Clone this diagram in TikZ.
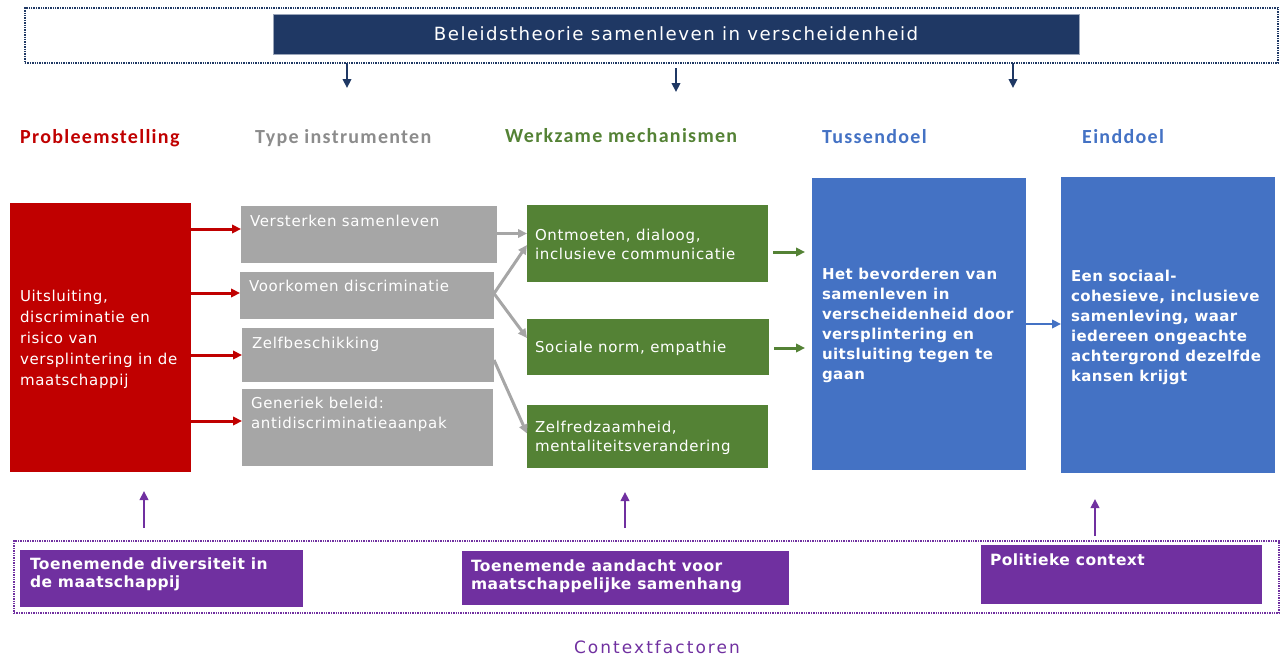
\documentclass[tikz,border=0pt]{standalone}
\usepackage{fontspec}
\usetikzlibrary{arrows.meta,calc}
\newfontfamily\boxfont{DejaVu Sans}[LetterSpace=4.5]
\newfontfamily\titlefont{DejaVu Sans}[LetterSpace=8]
\newfontfamily\ctxfont{DejaVu Sans}[LetterSpace=12]
\newfontfamily\boldfont{DejaVu Sans}[LetterSpace=3]
\newfontfamily\headfont{Carlito}[LetterSpace=6.5]
\definecolor{cnavy}{HTML}{1F3864}
\definecolor{cred}{HTML}{C00000}
\definecolor{cgrey}{HTML}{A6A6A6}
\definecolor{cgreyhead}{HTML}{8C8C8C}
\definecolor{cgreen}{HTML}{548235}
\definecolor{cblue}{HTML}{4472C4}
\definecolor{cpurple}{HTML}{7030A0}
\begin{document}
\begin{tikzpicture}[x=1pt,y=-1pt,
  box/.style={rectangle, anchor=north west, inner sep=0pt, outer sep=0pt},
  txt/.style={inner sep=0pt, outer sep=0pt, align=left, text=white},
  regtxt/.style={txt, font=\boxfont\fontsize{15}{20}\selectfont},
  boldtxt/.style={txt, font=\boldfont\bfseries\fontsize{15}{20}\selectfont},
  pptxt/.style={txt, anchor=base west, font=\boldfont\bfseries\fontsize{15.5}{18}\selectfont},
  head/.style={inner sep=0pt, anchor=base west, font=\headfont\bfseries\fontsize{20}{24}\selectfont},
  dots/.style={dash pattern=on 1.4pt off 1pt, line width=2.4pt},
  tip/.style={-{Triangle[length=9pt,width=8.5pt]}},
  redarrow/.style={tip, draw=cred, line width=3pt},
  greyarrow/.style={tip, draw=cgrey, line width=3pt},
  greenarrow/.style={tip, draw=cgreen, line width=3pt},
  bluearrow/.style={tip, draw=cblue, line width=2.6pt},
  navyarrow/.style={tip, draw=cnavy, line width=2.4pt},
  purplearrow/.style={tip, draw=cpurple, line width=2.8pt}]
\useasboundingbox (0,0) rectangle (1285,659);

% top frame and banner
\node[box, draw=cnavy, dots, minimum width=1253pt, minimum height=55pt] (topf) at (25,8) {};
\node[box, fill=cnavy, draw=cnavy!45, line width=0.8pt, minimum width=806pt, minimum height=40pt,
  text=white, font=\titlefont\fontsize{18.2}{20}\selectfont] (banner) at (273,14) {Beleidstheorie samenleven in verscheidenheid};

\coordinate (na1s) at (347,63);  \coordinate (na1e) at (347,88);
\coordinate (na2s) at (676,68);  \coordinate (na2e) at (676,92);
\coordinate (na3s) at (1013,63); \coordinate (na3e) at (1013,88);
\draw[navyarrow] (na1s) -- (na1e);
\draw[navyarrow] (na2s) -- (na2e);
\draw[navyarrow] (na3s) -- (na3e);

% headers
\node[head, text=cred] (h1) at (20,143) {Probleemstelling};
\node[head, text=cgreyhead] (h2) at (255,143) {Type instrumenten};
\node[head, text=cgreen] (h3) at (505,142) {Werkzame mechanismen};
\node[head, text=cblue] (h4) at (822,143) {Tussendoel};
\node[head, text=cblue] (h5) at (1082,143) {Einddoel};

% problem box
\node[box, fill=cred, minimum width=181pt, minimum height=269pt] (red) at (10,203) {};
\node[regtxt, anchor=west, font=\boxfont\fontsize{15}{21}\selectfont] (redt) at ([xshift=10pt,yshift=-2pt]red.west)
  {Uitsluiting,\\discriminatie en\\risico van\\versplintering in de\\maatschappij};

% instrument boxes
\node[box, fill=cgrey, minimum width=256pt, minimum height=57pt] (gr1) at (241,206) {};
\node[box, fill=cgrey, minimum width=254pt, minimum height=47pt] (gr2) at (240,272) {};
\node[box, fill=cgrey, minimum width=252pt, minimum height=54pt] (gr3) at (242,328) {};
\node[box, fill=cgrey, minimum width=251pt, minimum height=77pt] (gr4) at (242,389) {};
\node[regtxt, anchor=base west] (gr1t) at (250,226) {Versterken samenleven};
\node[regtxt, anchor=base west] (gr2t) at (249,291) {Voorkomen discriminatie};
\node[regtxt, anchor=base west] (gr3t) at (252,348) {Zelfbeschikking};
\node[regtxt, anchor=base west] (gr4t) at (251,428) {Generiek beleid:\\antidiscriminatieaanpak};

% mechanism boxes
\node[box, fill=cgreen, minimum width=241pt, minimum height=77pt] (gn1) at (527,205) {};
\node[box, fill=cgreen, minimum width=242pt, minimum height=56pt] (gn2) at (527,319) {};
\node[box, fill=cgreen, minimum width=241pt, minimum height=63pt] (gn3) at (527,405) {};
\node[regtxt, anchor=west, font=\boxfont\fontsize{15}{19.5}\selectfont] (gn1t) at ([xshift=8pt,yshift=-1pt]gn1.west) {Ontmoeten, dialoog,\\inclusieve communicatie};
\node[regtxt, anchor=west] (gn2t) at ([xshift=8pt,yshift=-1pt]gn2.west) {Sociale norm, empathie};
\node[regtxt, anchor=west, font=\boxfont\fontsize{15}{19.5}\selectfont] (gn3t) at ([xshift=8pt,yshift=-1.5pt]gn3.west) {Zelfredzaamheid,\\mentaliteitsverandering};

% goal boxes
\node[box, fill=cblue, minimum width=214pt, minimum height=292pt] (tus) at (812,178) {};
\node[box, fill=cblue, minimum width=214pt, minimum height=296pt] (ein) at (1061,177) {};
\node[boldtxt, anchor=west] (tust) at ([xshift=10pt,yshift=-1pt]tus.west)
  {Het bevorderen van\\samenleven in\\verscheidenheid door\\versplintering en\\uitsluiting tegen te\\gaan};
\node[boldtxt, anchor=west] (eint) at ([xshift=10pt,yshift=-2pt]ein.west)
  {Een sociaal-\\cohesieve, inclusieve\\samenleving, waar\\iedereen ongeachte\\achtergrond dezelfde\\kansen krijgt};

% red arrows
\path ([yshift=5.5pt]gr1.west) coordinate (r1e)
      ([yshift=2.5pt]gr2.west) coordinate (r2e)
      ([yshift=0pt]gr3.west) coordinate (r3e)
      ([yshift=6.5pt]gr4.west) coordinate (r4e);
\draw[redarrow] (r1e -| red.east) -- (r1e);
\draw[redarrow] (r2e -| red.east) -- (r2e);
\draw[redarrow] (r3e -| red.east) -- (r3e);
\draw[redarrow] (r4e -| red.east) -- (r4e);

% grey arrows
\draw[greyarrow] ([yshift=1pt]gr1.east) -- ([yshift=1pt]gr1.east -| gn1.west);
\draw[greyarrow] ([yshift=2pt]gr2.east) -- ([yshift=-1.5pt]gn1.west);
\draw[greyarrow] ([yshift=2pt]gr2.east) -- ([yshift=9pt]gn2.west);
\draw[greyarrow] ([yshift=-5pt]gr3.east) -- ([yshift=3pt]gn3.west);

% green arrows
\path ([xshift=5pt,yshift=-8.5pt]gn1.east) coordinate (g1s)
      ([xshift=5pt,yshift=-1pt]gn2.east) coordinate (g2s);
\draw[greenarrow, shorten >=7pt] (g1s) -- (g1s -| tus.west);
\draw[greenarrow, shorten >=7pt] (g2s) -- (g2s -| tus.west);

% blue arrow
\draw[bluearrow] (tus.east) -- (tus.east -| ein.west);

% context factors
\node[box, draw=cpurple, dots, minimum width=1265pt, minimum height=72pt] (botf) at (14,541) {};
\node[box, fill=cpurple, minimum width=283pt, minimum height=57pt] (pp1) at (20,550) {};
\node[box, fill=cpurple, minimum width=327pt, minimum height=54pt] (pp2) at (462,551) {};
\node[box, fill=cpurple, minimum width=281pt, minimum height=59pt] (pp3) at (981,545) {};
\node[pptxt] (pp1t) at (30,587) {Toenemende diversiteit in\\de maatschappij};
\node[pptxt] (pp2t) at (471,589) {Toenemende aandacht voor\\maatschappelijke samenhang};
\node[pptxt] (pp3t) at (990,565) {Politieke context};

\coordinate (pa1s) at (144,528);  \coordinate (pa1e) at (144,491);
\coordinate (pa2s) at (625,528);  \coordinate (pa2e) at (625,492);
\coordinate (pa3s) at (1095,536); \coordinate (pa3e) at (1095,499);
\draw[purplearrow] (pa1s) -- (pa1e);
\draw[purplearrow] (pa2s) -- (pa2e);
\draw[purplearrow] (pa3s) -- (pa3e);

\node[inner sep=0pt, anchor=base, text=cpurple, font=\ctxfont\fontsize{17}{20}\selectfont] (ctx) at (657,653) {Contextfactoren};
\end{tikzpicture}
\end{document}
